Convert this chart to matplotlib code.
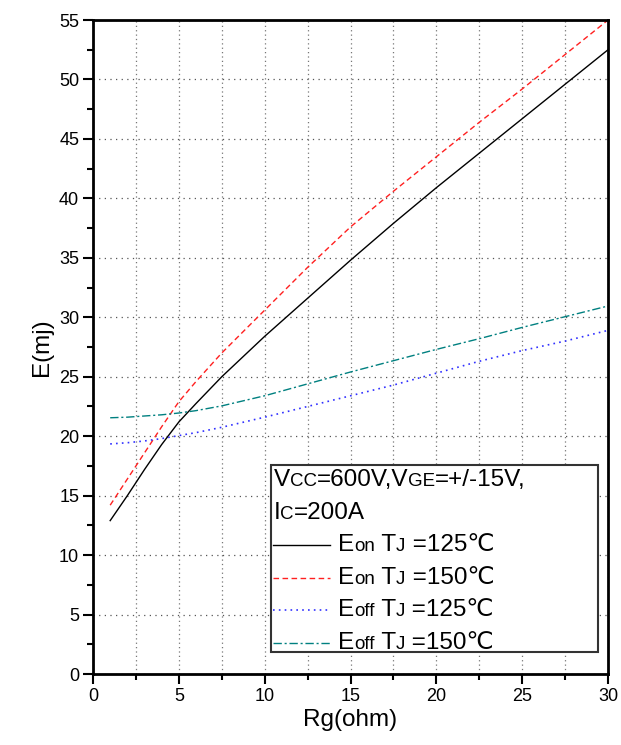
import matplotlib
matplotlib.use("Agg")
import matplotlib.pyplot as plt
from matplotlib.offsetbox import TextArea, HPacker, VPacker, DrawingArea, AnchoredOffsetbox
from matplotlib.lines import Line2D
from matplotlib.patches import Rectangle
from matplotlib.ticker import MultipleLocator

FONT = ['Liberation Sans', 'DejaVu Sans']
plt.rcParams['font.family'] = FONT

# ---- data ----
rg = [1, 2, 3, 4, 5, 6, 7.5, 10, 12.5, 15, 17.5, 20, 22.5, 25, 27.5, 30]
eon_125 = [12.9, 15.0, 17.2, 19.3, 21.2, 22.75, 25.0, 28.4, 31.6, 34.8, 37.9, 40.9, 43.8, 46.7, 49.6, 52.5]
eon_150 = [14.2, 16.4, 18.6, 20.8, 22.9, 24.6, 27.0, 30.6, 34.2, 37.6, 40.6, 43.5, 46.4, 49.2, 52.1, 55.0]
eoff_125 = [19.35, 19.45, 19.6, 19.8, 20.05, 20.3, 20.75, 21.6, 22.5, 23.4, 24.3, 25.3, 26.3, 27.2, 28.0, 28.9]
eoff_150 = [21.55, 21.6, 21.7, 21.8, 21.95, 22.15, 22.55, 23.4, 24.4, 25.4, 26.35, 27.3, 28.2, 29.15, 30.05, 30.95]

series = [
    (eon_125, [("E", "big"), ("on", "sub"), (" T", "big"), ("J", "sub"), (" =125℃", "big")]),
    (eon_150, [("E", "big"), ("on", "sub"), (" T", "big"), ("J", "sub"), (" =150℃", "big")]),
    (eoff_125, [("E", "big"), ("off", "sub"), (" T", "big"), ("J", "sub"), (" =125℃", "big")]),
    (eoff_150, [("E", "big"), ("off", "sub"), (" T", "big"), ("J", "sub"), (" =150℃", "big")]),
]
title_lines = [
    [("V", "big"), ("CC", "sub"), ("=600V,V", "big"), ("GE", "sub"), ("=+/-15V,", "big")],
    [("I", "big"), ("C", "sub"), ("=200A", "big")],
]
styles = [
    dict(color='black', linestyle='-', linewidth=1.0),
    dict(color='#ff2020', linestyle=(0, (4, 2.5)), linewidth=1.0),
    dict(color='#3030ff', linestyle=(0, (1, 2.5)), linewidth=1.2),
    dict(color='#008080', linestyle=(0, (6, 2, 1.5, 2)), linewidth=1.0),
]
SIZES = {"big": 17.5, "sub": 13.5}

fig = plt.figure(figsize=(6.21, 7.45), dpi=100)
ax = fig.add_axes([0.1498, 0.0953, 0.8293, 0.8778])

for (vals, _), st in zip(series, styles):
    ax.plot(rg, vals, **st)

ax.set_xlim(0, 30)
ax.set_ylim(0, 55)
ax.xaxis.set_major_locator(MultipleLocator(5))
ax.xaxis.set_minor_locator(MultipleLocator(2.5))
ax.yaxis.set_major_locator(MultipleLocator(5))
ax.yaxis.set_minor_locator(MultipleLocator(2.5))
ax.tick_params(which='major', direction='out', length=7, width=1.5, labelsize=13, pad=3)
ax.tick_params(which='minor', direction='out', length=4, width=1.5)
for sp in ax.spines.values():
    sp.set_linewidth(2.0)

ax.grid(axis='x', which='both', linestyle=(0, (1, 2.5)), color='#777777', linewidth=0.9)
ax.grid(axis='y', which='major', linestyle=(0, (1, 3.5)), color='#555555', linewidth=0.9)

ax.set_xlabel('Rg(ohm)', fontsize=17.5, labelpad=3)
ax.set_ylabel('E(mj)', fontsize=17.5, labelpad=4)

# legend frame
x0, y0, x1, y1 = 0.3456, 0.0336, 0.9806, 0.3196
ax.add_patch(Rectangle((x0, y0), x1 - x0, y1 - y0, transform=ax.transAxes,
                       facecolor='white', edgecolor='#333333', linewidth=1.5, zorder=4))


def rich(parts):
    return HPacker(children=[TextArea(t, textprops=dict(fontsize=SIZES[s], family=FONT))
                             for t, s in parts],
                   align="baseline", pad=0, sep=0)


rows = [rich(p) for p in title_lines]
for (_, label), st in zip(series, styles):
    da = DrawingArea(41, 12, 0, 0)
    da.add_artist(Line2D([0, 41], [6, 6], **st))
    rows.append(HPacker(children=[da, rich(label)], align="center", pad=0, sep=5.5))

box = VPacker(children=rows, align="left", pad=0, sep=7.6)
anch = AnchoredOffsetbox(loc='upper left', child=box, pad=0.1, borderpad=0,
                         frameon=False, bbox_to_anchor=(x0 + 0.002, y1 - 0.004),
                         bbox_transform=ax.transAxes)
anch.set_zorder(5)
ax.add_artist(anch)

fig.savefig('out.png', dpi=100)
